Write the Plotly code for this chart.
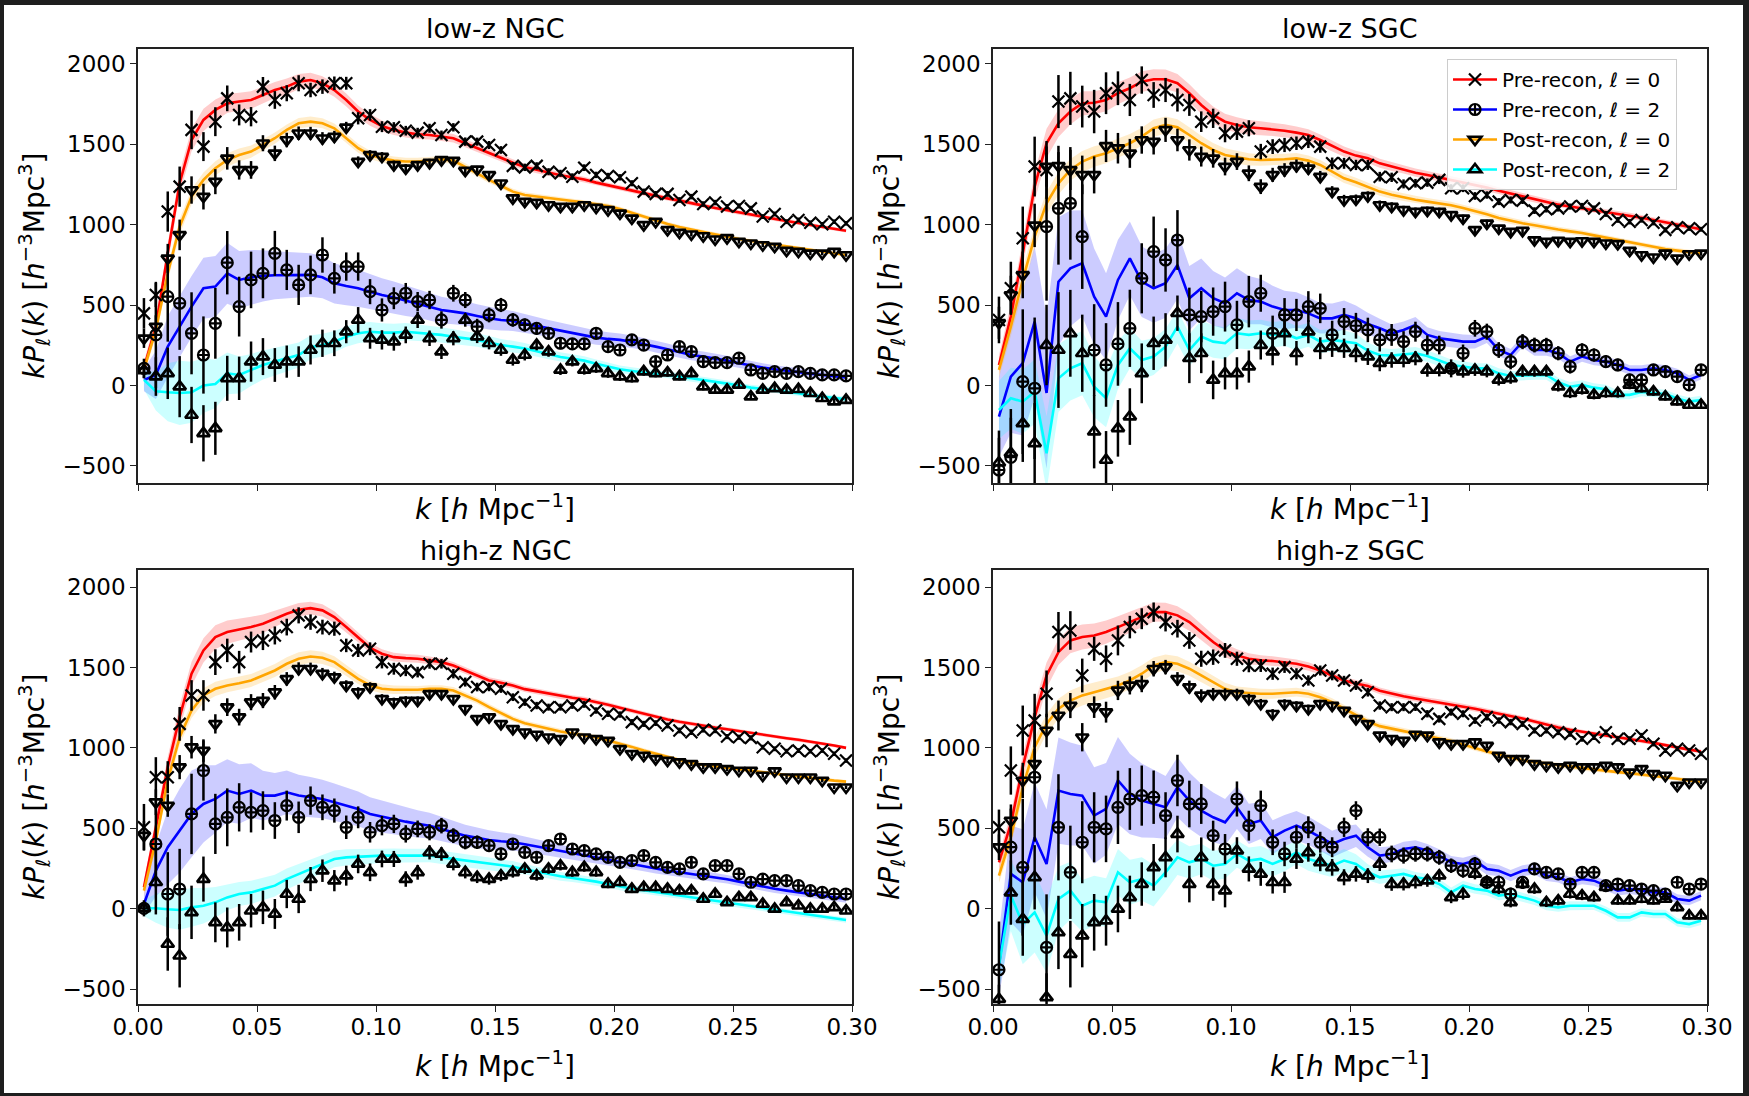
import plotly.graph_objects as go

# wavenumber bins (h/Mpc)
K = [0.0025, 0.0075, 0.0125, 0.0175, 0.0225, 0.0275, 0.0325, 0.0375, 0.0425, 0.0475,
     0.0525, 0.0575, 0.0625, 0.0675, 0.0725, 0.0775, 0.0825, 0.0875, 0.0925, 0.0975,
     0.1025, 0.1075, 0.1125, 0.1175, 0.1225, 0.1275, 0.1325, 0.1375, 0.1425, 0.1475,
     0.1525, 0.1575, 0.1625, 0.1675, 0.1725, 0.1775, 0.1825, 0.1875, 0.1925, 0.1975,
     0.2025, 0.2075, 0.2125, 0.2175, 0.2225, 0.2275, 0.2325, 0.2375, 0.2425, 0.2475,
     0.2525, 0.2575, 0.2625, 0.2675, 0.2725, 0.2775, 0.2825, 0.2875, 0.2925, 0.2975]

X_TICKS = [0.0, 0.05, 0.10, 0.15, 0.20, 0.25, 0.30]
X_TICK_LABELS = ["0.00", "0.05", "0.10", "0.15", "0.20", "0.25", "0.30"]
Y_TICKS = [-500, 0, 500, 1000, 1500, 2000]

# ---------------- low-z NGC ----------------
LZN_PRE0 = [449, 563, 1082, 1237, 1590, 1486, 1641, 1786, 1683, 1672,
            1859, 1776, 1818, 1880, 1838, 1859, 1880, 1880, 1662, 1683,
            1610, 1606, 1585, 1573, 1600, 1558, 1606, 1517, 1517, 1496,
            1465, 1366, 1357, 1366, 1330, 1320, 1299, 1355, 1310, 1303,
            1295, 1258, 1206, 1192, 1192, 1154, 1175, 1129, 1138, 1113,
            1117, 1102, 1051, 1067, 1019, 1030, 1013, 1003, 1019, 1009]
LZN_PRE0_ERR = [95, 75, 125, 125, 120, 90, 90, 80, 65, 60,
                60, 55, 50, 50, 45, 45, 42, 40, 38, 36,
                34, 32, 30, 30, 28, 28, 26, 26, 25, 25,
                24, 24, 23, 23, 22, 22, 21, 21, 20, 20,
                20, 19, 19, 18, 18, 18, 17, 17, 17, 16,
                16, 16, 15, 15, 15, 15, 14, 14, 14, 14]
LZN_PRE0_MOCK = [110, 367, 822, 1258, 1527, 1652, 1714, 1755, 1766, 1776,
                 1807, 1838, 1859, 1890, 1900, 1880, 1838, 1776, 1704, 1652,
                 1614, 1590, 1573, 1563, 1558, 1548, 1538, 1507, 1476, 1445,
                 1415, 1386, 1359, 1341, 1324, 1308, 1295, 1281, 1262, 1245,
                 1231, 1214, 1196, 1179, 1164, 1150, 1133, 1119, 1104, 1090,
                 1075, 1061, 1048, 1036, 1023, 1011, 999, 988, 976, 963]
LZN_PRE0_SIG = [40, 50, 60, 65, 70, 70, 65, 60, 55, 55,
                52, 50, 50, 48, 46, 44, 42, 40, 38, 36,
                34, 32, 30, 29, 28, 27, 26, 25, 24, 23,
                22, 21, 20, 20, 19, 19, 18, 18, 17, 17,
                16, 16, 16, 15, 15, 15, 14, 14, 14, 13,
                13, 13, 12, 12, 12, 12, 11, 11, 11, 11]
LZN_POST0 = [294, 367, 791, 937, 1216, 1175, 1268, 1413, 1341, 1341,
             1507, 1444, 1527, 1569, 1569, 1538, 1548, 1606, 1393, 1434,
             1424, 1372, 1351, 1372, 1386, 1403, 1399, 1337, 1345, 1310,
             1258, 1165, 1144, 1138, 1123, 1113, 1113, 1123, 1107, 1092,
             1071, 1040, 999, 1019, 968, 951, 941, 930, 910, 918,
             895, 885, 874, 864, 839, 833, 822, 822, 833, 812]
LZN_POST0_ERR = [60, 70, 90, 95, 85, 80, 78, 70, 60, 55,
                 50, 48, 45, 42, 40, 38, 36, 34, 32, 30,
                 28, 27, 26, 25, 24, 23, 22, 22, 21, 21,
                 20, 20, 19, 19, 18, 18, 17, 17, 17, 16,
                 16, 16, 15, 15, 15, 14, 14, 14, 14, 13,
                 13, 13, 13, 12, 12, 12, 12, 12, 11, 11]
LZN_POST0_MOCK = [100, 346, 698, 988, 1175, 1279, 1351, 1403, 1434, 1455,
                  1496, 1538, 1590, 1631, 1641, 1631, 1600, 1538, 1476, 1434,
                  1413, 1399, 1393, 1393, 1399, 1407, 1399, 1362, 1320, 1279,
                  1245, 1206, 1185, 1175, 1165, 1156, 1148, 1140, 1129, 1117,
                  1098, 1075, 1051, 1026, 1005, 986, 970, 955, 941, 926,
                  912, 899, 889, 876, 866, 856, 845, 835, 825, 812]
LZN_POST0_SIG = [35, 40, 45, 48, 48, 46, 44, 42, 40, 38,
                 36, 35, 34, 33, 32, 31, 30, 29, 28, 27,
                 26, 25, 24, 23, 22, 21, 20, 20, 19, 19,
                 18, 18, 17, 17, 16, 16, 16, 15, 15, 15,
                 14, 14, 14, 13, 13, 13, 12, 12, 12, 12,
                 11, 11, 11, 11, 10, 10, 10, 10, 10, 10]
LZN_PRE2 = [107, 315, 553, 512, 325, 190, 387, 764, 491, 657,
            698, 822, 719, 626, 688, 812, 667, 740, 740, 584,
            470, 543, 574, 522, 532, 408, 574, 532, 367, 439,
            501, 408, 377, 356, 325, 263, 259, 259, 325, 242,
            221, 284, 252, 149, 190, 242, 211, 149, 143, 143,
            170, 97, 76, 87, 76, 87, 76, 66, 66, 60]
LZN_PRE2_ERR = [60, 330, 280, 290, 255, 240, 220, 197, 186, 176,
                155, 140, 125, 125, 120, 110, 95, 88, 88, 78,
                72, 68, 64, 60, 57, 54, 52, 50, 48, 46,
                44, 42, 40, 39, 38, 37, 36, 35, 34, 33,
                32, 31, 30, 30, 29, 28, 28, 27, 27, 26,
                26, 25, 25, 24, 24, 23, 23, 22, 22, 22]
LZN_PRE2_MOCK = [35, 66, 242, 367, 491, 605, 616, 698, 657, 673,
                 682, 686, 688, 688, 688, 673, 636, 619, 605, 584,
                 563, 547, 528, 512, 491, 470, 460, 449, 433, 418,
                 408, 402, 385, 371, 356, 342, 327, 313, 298, 290,
                 284, 273, 259, 242, 226, 207, 190, 180, 168, 155,
                 139, 124, 112, 101, 91, 83, 74, 66, 60, 51]
LZN_PRE2_SIG = [70, 150, 190, 190, 190, 190, 190, 190, 180, 170,
                160, 150, 145, 140, 135, 130, 125, 120, 115, 110,
                105, 100, 95, 90, 86, 82, 78, 75, 72, 70,
                66, 62, 58, 55, 52, 50, 48, 46, 44, 42,
                40, 38, 37, 36, 35, 34, 33, 32, 31, 30,
                29, 28, 27, 26, 26, 25, 25, 24, 24, 23]
LZN_POST2 = [95, 56, 76, -7, -183, -297, -266, 45, 45, 149,
             180, 128, 149, 149, 221, 263, 263, 335, 408, 294,
             284, 273, 315, 408, 294, 211, 294, 408, 304, 263,
             221, 159, 190, 252, 211, 97, 149, 97, 107, 76,
             56, 45, 87, 76, 80, 56, 76, -7, -27, -27,
             4, -69, -27, -17, -27, -23, -48, -79, -100, -90]
LZN_POST2_ERR = [50, 120, 160, 190, 175, 175, 165, 140, 135, 125,
                 115, 105, 100, 95, 90, 85, 80, 72, 80, 65,
                 60, 56, 52, 50, 48, 46, 44, 42, 40, 38,
                 36, 35, 34, 33, 32, 31, 30, 29, 28, 28,
                 27, 26, 26, 25, 25, 24, 24, 23, 23, 22,
                 22, 21, 21, 21, 20, 20, 20, 19, 19, 19]
LZN_POST2_MOCK = [35, -35, -42, -46, -42, 0, 10, 76, 66, 97,
                  128, 149, 170, 190, 238, 252, 273, 304, 325, 335,
                  329, 329, 335, 329, 325, 315, 304, 294, 284, 267,
                  252, 242, 230, 213, 194, 178, 167, 155, 136, 118,
                  101, 91, 83, 76, 66, 56, 45, 35, 23, 12,
                  0, -13, -21, -29, -38, -48, -61, -69, -77, -85]
LZN_POST2_SIG = [60, 120, 180, 200, 190, 170, 150, 130, 115, 100,
                 90, 86, 82, 78, 74, 70, 66, 63, 62, 60,
                 58, 56, 54, 52, 50, 48, 46, 44, 42, 41,
                 38, 36, 34, 32, 30, 29, 28, 27, 26, 25,
                 24, 23, 22, 22, 21, 21, 20, 20, 19, 19,
                 18, 18, 18, 17, 17, 17, 16, 16, 16, 16]

# ---------------- low-z SGC ----------------
LZS_PRE0 = [408, 605, 916, 1362, 1341, 1766, 1786, 1735, 1704, 1818,
            1849, 1776, 1900, 1807, 1838, 1776, 1745, 1641, 1662, 1569,
            1579, 1600, 1455, 1486, 1496, 1507, 1517, 1486, 1382, 1382,
            1372, 1372, 1299, 1295, 1254, 1258, 1262, 1279, 1227, 1227,
            1179, 1185, 1144, 1154, 1150, 1088, 1096, 1102, 1113, 1117,
            1102, 1067, 1030, 1019, 1030, 1013, 968, 984, 978, 972]
LZS_PRE0_ERR = [145, 165, 197, 186, 180, 165, 165, 130, 135, 130,
                105, 100, 85, 80, 75, 72, 68, 64, 60, 56,
                52, 50, 48, 46, 44, 42, 40, 38, 36, 34,
                32, 31, 30, 29, 28, 27, 26, 26, 25, 24,
                24, 23, 22, 22, 21, 21, 20, 20, 19, 19,
                18, 18, 18, 17, 17, 17, 16, 16, 16, 15]
LZS_PRE0_MOCK = [128, 429, 822, 1237, 1507, 1631, 1704, 1755, 1759, 1776,
                 1818, 1849, 1890, 1905, 1905, 1880, 1818, 1745, 1683, 1641,
                 1621, 1606, 1600, 1594, 1585, 1573, 1558, 1527, 1490, 1455,
                 1430, 1413, 1382, 1362, 1345, 1324, 1310, 1295, 1279, 1262,
                 1248, 1231, 1212, 1194, 1175, 1159, 1140, 1125, 1113, 1102,
                 1092, 1080, 1069, 1057, 1044, 1030, 1015, 1001, 986, 972]
LZS_PRE0_SIG = [60, 75, 85, 90, 90, 85, 80, 75, 72, 70,
                68, 66, 64, 62, 60, 58, 56, 54, 52, 50,
                48, 46, 44, 42, 40, 38, 36, 34, 33, 32,
                30, 29, 28, 27, 26, 26, 25, 24, 24, 23,
                22, 22, 21, 21, 20, 20, 19, 19, 18, 18,
                18, 17, 17, 17, 16, 16, 16, 15, 15, 15]
LZS_POST0 = [390, 563, 688, 996, 1362, 1366, 1341, 1310, 1310, 1490,
             1476, 1444, 1527, 1517, 1590, 1527, 1465, 1424, 1413, 1362,
             1393, 1320, 1237, 1310, 1341, 1366, 1351, 1299, 1206, 1154,
             1158, 1179, 1123, 1113, 1092, 1082, 1088, 1082, 1061, 1040,
             968, 1009, 978, 957, 963, 905, 895, 901, 895, 899,
             895, 885, 881, 839, 812, 798, 822, 791, 818, 822]
LZS_POST0_ERR = [100, 120, 145, 135, 125, 125, 125, 120, 115, 100,
                 95, 90, 85, 80, 75, 70, 66, 62, 58, 55,
                 52, 49, 46, 44, 42, 40, 38, 36, 34, 32,
                 30, 29, 28, 27, 26, 25, 25, 24, 23, 23,
                 22, 22, 21, 21, 20, 20, 19, 19, 18, 18,
                 18, 17, 17, 17, 16, 16, 16, 15, 15, 15]
LZS_POST0_MOCK = [97, 367, 657, 926, 1133, 1258, 1341, 1393, 1424, 1444,
                  1476, 1507, 1548, 1600, 1621, 1606, 1558, 1507, 1465, 1434,
                  1420, 1407, 1403, 1403, 1407, 1413, 1399, 1372, 1330, 1289,
                  1264, 1237, 1206, 1187, 1171, 1156, 1144, 1133, 1121, 1104,
                  1086, 1065, 1042, 1024, 1009, 997, 982, 970, 959, 949,
                  934, 920, 903, 889, 874, 862, 849, 839, 829, 822]
LZS_POST0_SIG = [50, 60, 70, 72, 72, 70, 68, 66, 64, 62,
                 60, 58, 56, 54, 52, 50, 48, 46, 44, 42,
                 40, 38, 36, 35, 34, 33, 32, 31, 30, 29,
                 28, 27, 26, 25, 24, 24, 23, 22, 22, 21,
                 21, 20, 20, 19, 19, 18, 18, 18, 17, 17,
                 17, 16, 16, 16, 15, 15, 15, 15, 14, 14]
LZS_PRE2 = [-525, -446, 24, -17, 988, 1102, 1133, 926, 221, 128,
            259, 356, 667, 833, 781, 905, 439, 429, 460, 491,
            377, 522, 574, 325, 439, 439, 491, 480, 315, 398,
            372, 346, 284, 315, 273, 335, 252, 252, 107, 201,
            356, 335, 221, 149, 273, 252, 252, 201, 118, 221,
            190, 149, 128, 35, 35, 97, 87, 56, 4, 97]
LZS_PRE2_ERR = [200, 300, 450, 440, 460, 350, 350, 325, 285, 260,
                260, 240, 218, 218, 197, 186, 170, 160, 150, 155,
                150, 160, 115, 110, 105, 100, 96, 92, 88, 84,
                80, 76, 72, 68, 65, 62, 60, 58, 56, 54,
                52, 50, 49, 48, 47, 46, 45, 44, 43, 42,
                41, 40, 39, 38, 37, 36, 35, 35, 34, 34]
LZS_PRE2_MOCK = [-193, 56, 139, 397, -46, 646, 729, 760, 553, 429,
                 657, 791, 646, 605, 636, 750, 543, 605, 543, 512,
                 574, 532, 522, 491, 470, 470, 449, 418, 418, 439,
                 418, 383, 356, 325, 346, 377, 315, 294, 284, 273,
                 273, 304, 221, 190, 273, 221, 221, 201, 149, 180,
                 159, 149, 128, 97, 97, 107, 97, 76, 35, 66]
LZS_PRE2_SIG = [250, 350, 450, 470, 470, 400, 360, 330, 300, 270,
                250, 230, 220, 215, 215, 210, 200, 185, 170, 160,
                155, 150, 140, 130, 120, 110, 100, 95, 93, 90,
                80, 70, 60, 55, 52, 50, 48, 46, 45, 44,
                42, 40, 39, 38, 37, 36, 35, 34, 33, 32,
                32, 31, 31, 30, 30, 30, 29, 29, 28, 28]
LZS_POST2 = [-480, -420, -235, -359, 252, 221, 325, 201, -287, -463,
             -266, -193, 76, 263, 284, 450, 170, 201, 35, 76,
             76, 118, 252, 211, 325, 201, 335, 232, 242, 232,
             201, 180, 139, 159, 159, 170, 97, 97, 107, 87,
             97, 87, 35, 45, 87, 87, 87, -7, -48, -27,
             -58, -48, -48, 4, -17, -38, -69, -100, -121, -121]
LZS_POST2_ERR = [200, 220, 240, 250, 250, 360, 270, 240, 228, 180,
                 176, 176, 186, 166, 166, 110, 155, 124, 120, 100,
                 100, 100, 90, 85, 80, 76, 72, 68, 64, 60,
                 56, 52, 50, 48, 46, 44, 42, 40, 39, 38,
                 37, 36, 35, 34, 33, 32, 31, 30, 30, 29,
                 28, 28, 27, 27, 26, 26, 25, 25, 25, 24]
LZS_POST2_MOCK = [-152, -79, -100, -38, -421, 45, 107, 139, -7, -79,
                  128, 232, 159, 180, 242, 367, 221, 304, 273, 263,
                  325, 315, 325, 315, 325, 294, 315, 273, 284, 273,
                  263, 217, 190, 186, 194, 201, 184, 155, 128, 118,
                  107, 107, 76, 60, 62, 66, 66, 20, -7, 4,
                  -13, -23, -58, -58, -40, -46, -52, -81, -100, -90]
LZS_POST2_SIG = [180, 190, 200, 200, 230, 210, 200, 200, 190, 180,
                 150, 125, 120, 115, 110, 105, 100, 100, 100, 100,
                 95, 90, 85, 80, 78, 76, 74, 72, 70, 70,
                 60, 50, 45, 42, 40, 38, 36, 35, 34, 33,
                 32, 32, 31, 31, 30, 30, 30, 29, 29, 29,
                 28, 28, 28, 27, 27, 27, 26, 26, 26, 26]

# ---------------- high-z NGC ----------------
HZN_PRE0 = [506, 817, 817, 1149, 1326, 1326, 1533, 1606, 1533, 1658,
            1668, 1699, 1751, 1824, 1782, 1751, 1741, 1637, 1606, 1616,
            1533, 1492, 1481, 1471, 1523, 1523, 1461, 1409, 1378, 1378,
            1367, 1315, 1284, 1263, 1253, 1253, 1263, 1270, 1232, 1212,
            1207, 1160, 1149, 1154, 1139, 1108, 1097, 1112, 1108, 1070,
            1066, 1062, 1004, 994, 979, 983, 979, 983, 963, 921]
HZN_PRE0_ERR = [145, 125, 100, 105, 95, 95, 80, 73, 70, 65,
                60, 56, 52, 50, 48, 46, 44, 42, 41, 40,
                39, 37, 35, 33, 31, 30, 29, 28, 27, 26,
                25, 24, 23, 23, 22, 22, 21, 21, 20, 20,
                20, 19, 19, 18, 18, 18, 17, 17, 17, 16,
                16, 16, 15, 15, 15, 15, 14, 14, 14, 14]
HZN_PRE0_MOCK = [133, 506, 880, 1191, 1461, 1606, 1689, 1720, 1734, 1751,
                 1772, 1803, 1834, 1859, 1869, 1855, 1813, 1751, 1689, 1622,
                 1585, 1564, 1558, 1554, 1544, 1533, 1512, 1481, 1450, 1419,
                 1405, 1388, 1365, 1351, 1336, 1321, 1311, 1301, 1286, 1268,
                 1249, 1230, 1212, 1193, 1176, 1162, 1149, 1137, 1126, 1116,
                 1104, 1093, 1083, 1070, 1060, 1050, 1039, 1027, 1014, 1000]
HZN_PRE0_SIG = [40, 55, 65, 72, 75, 75, 74, 72, 68, 64,
                58, 52, 46, 42, 40, 38, 36, 34, 32, 30,
                28, 27, 26, 25, 24, 23, 22, 21, 20, 20,
                19, 19, 18, 18, 17, 17, 16, 16, 16, 15,
                15, 15, 14, 14, 14, 13, 13, 13, 13, 12,
                12, 12, 12, 11, 11, 11, 11, 11, 10, 10]
HZN_POST0 = [454, 662, 641, 880, 1004, 983, 1149, 1253, 1191, 1284,
             1294, 1346, 1429, 1492, 1492, 1461, 1440, 1388, 1346, 1378,
             1305, 1284, 1294, 1294, 1336, 1336, 1305, 1243, 1180, 1191,
             1149, 1118, 1097, 1083, 1066, 1056, 1097, 1066, 1056, 1045,
             994, 963, 952, 931, 921, 911, 900, 880, 880, 869,
             859, 859, 828, 855, 817, 817, 817, 797, 755, 755]
HZN_POST0_ERR = [90, 80, 70, 75, 70, 70, 60, 55, 52, 50,
                 47, 45, 42, 40, 38, 36, 34, 32, 31, 30,
                 29, 28, 27, 26, 25, 24, 23, 22, 21, 21,
                 20, 20, 19, 19, 18, 18, 17, 17, 17, 16,
                 16, 16, 15, 15, 15, 14, 14, 14, 14, 13,
                 13, 13, 13, 12, 12, 12, 12, 12, 11, 11]
HZN_POST0_MOCK = [112, 423, 797, 1066, 1232, 1326, 1367, 1388, 1402, 1419,
                  1450, 1481, 1523, 1554, 1568, 1560, 1533, 1481, 1429, 1388,
                  1367, 1361, 1361, 1361, 1367, 1367, 1357, 1326, 1294, 1253,
                  1215, 1180, 1153, 1135, 1116, 1102, 1089, 1078, 1066, 1045,
                  1027, 1006, 983, 963, 942, 923, 906, 894, 885, 875,
                  867, 858, 850, 840, 830, 819, 811, 803, 796, 790]
HZN_POST0_SIG = [30, 38, 44, 46, 46, 45, 44, 42, 41, 40,
                 40, 40, 40, 40, 39, 38, 36, 34, 32, 30,
                 28, 26, 25, 24, 23, 22, 21, 20, 19, 19,
                 18, 18, 17, 17, 16, 16, 16, 15, 15, 15,
                 14, 14, 14, 13, 13, 13, 12, 12, 12, 12,
                 11, 11, 11, 11, 10, 10, 10, 10, 10, 10]
HZN_PRE2 = [2, 402, 91, 122, 589, 859, 527, 568, 630, 599,
            610, 548, 641, 568, 672, 630, 610, 506, 568, 475,
            516, 527, 465, 496, 475, 516, 454, 413, 413, 392,
            340, 402, 350, 319, 392, 433, 371, 361, 340, 319,
            288, 299, 330, 288, 257, 247, 288, 216, 268, 268,
            216, 164, 184, 174, 174, 143, 112, 101, 91, 91]
HZN_PRE2_ERR = [50, 270, 260, 250, 250, 187, 187, 180, 150, 125,
                120, 114, 93, 98, 88, 80, 75, 73, 68, 64,
                60, 57, 54, 52, 50, 48, 46, 44, 42, 40,
                39, 38, 37, 36, 35, 34, 33, 32, 31, 30,
                30, 29, 28, 28, 27, 27, 26, 26, 25, 25,
                24, 24, 24, 23, 23, 23, 22, 22, 22, 22]
HZN_PRE2_MOCK = [29, 236, 382, 485, 589, 651, 682, 734, 713, 734,
                 703, 703, 724, 703, 693, 682, 662, 641, 620, 589,
                 572, 558, 541, 527, 516, 496, 475, 454, 440, 427,
                 419, 413, 400, 386, 371, 357, 343, 328, 315, 303,
                 290, 278, 263, 249, 236, 226, 216, 203, 193, 183,
                 168, 153, 137, 124, 112, 101, 91, 81, 70, 60]
HZN_PRE2_SIG = [60, 160, 230, 260, 270, 240, 210, 195, 185, 170,
                155, 140, 135, 130, 125, 120, 116, 112, 108, 104,
                100, 95, 90, 85, 80, 76, 72, 68, 64, 60,
                56, 52, 48, 45, 42, 40, 38, 36, 35, 34,
                33, 32, 31, 30, 30, 29, 29, 28, 28, 27,
                27, 26, 26, 26, 25, 25, 25, 24, 24, 24]
HZN_POST2 = [2, 164, -220, -293, -23, 184, -85, -117, -85, -13,
             8, -33, 91, 60, 184, 236, 174, 205, 278, 226,
             309, 309, 184, 226, 350, 340, 278, 226, 195, 184,
             205, 226, 247, 205, 247, 267, 226, 257, 226, 153,
             164, 122, 133, 133, 122, 112, 112, 60, 91, 39,
             70, 70, 29, -2, 39, 18, -2, -2, 8, -13]
HZN_POST2_ERR = [40, 200, 166, 197, 166, 140, 124, 124, 114, 104,
                 104, 93, 88, 88, 75, 70, 66, 62, 58, 55,
                 52, 50, 48, 46, 44, 42, 40, 38, 36, 35,
                 34, 33, 32, 31, 30, 29, 28, 27, 27, 26,
                 25, 25, 24, 24, 23, 23, 22, 22, 22, 21,
                 21, 21, 20, 20, 20, 20, 19, 19, 19, 19]
HZN_POST2_MOCK = [2, 2, -4, -8, 8, 18, 39, 70, 91, 101,
                  122, 143, 184, 216, 247, 278, 309, 319, 323, 323,
                  330, 330, 330, 330, 330, 319, 309, 299, 288, 278,
                  267, 261, 245, 230, 216, 201, 191, 180, 168, 153,
                  137, 124, 114, 103, 91, 81, 70, 58, 47, 37,
                  25, 14, 2, -8, -19, -31, -41, -52, -62, -71]
HZN_POST2_SIG = [50, 90, 115, 124, 120, 110, 95, 80, 75, 72,
                 70, 68, 65, 62, 58, 55, 52, 50, 48, 46,
                 45, 44, 43, 42, 42, 41, 41, 40, 40, 40,
                 38, 35, 32, 30, 28, 27, 26, 25, 24, 23,
                 22, 22, 21, 21, 20, 20, 20, 19, 19, 19,
                 18, 18, 18, 18, 17, 17, 17, 17, 16, 16]

# ---------------- high-z SGC ----------------
HZS_PRE0 = [506, 859, 1108, 1170, 1336, 1720, 1730, 1450, 1616, 1554,
            1668, 1751, 1803, 1844, 1782, 1741, 1668, 1554, 1564, 1606,
            1554, 1512, 1512, 1461, 1502, 1461, 1419, 1481, 1450, 1419,
            1388, 1346, 1263, 1253, 1253, 1253, 1212, 1180, 1222, 1212,
            1170, 1191, 1170, 1160, 1149, 1108, 1108, 1097, 1087, 1056,
            1066, 1097, 1056, 1056, 1077, 1025, 983, 994, 983, 963]
HZS_PRE0_ERR = [110, 150, 155, 166, 145, 125, 120, 105, 75, 83,
                93, 70, 65, 60, 58, 55, 52, 50, 48, 46,
                44, 42, 40, 38, 36, 34, 32, 31, 30, 29,
                28, 27, 26, 25, 25, 24, 23, 23, 22, 22,
                21, 21, 20, 20, 19, 19, 19, 18, 18, 18,
                17, 17, 17, 16, 16, 16, 15, 15, 15, 15]
HZS_PRE0_MOCK = [288, 527, 880, 1191, 1450, 1595, 1668, 1689, 1699, 1720,
                 1751, 1782, 1813, 1844, 1844, 1824, 1782, 1720, 1658, 1606,
                 1575, 1554, 1544, 1540, 1533, 1523, 1506, 1481, 1450, 1419,
                 1400, 1384, 1355, 1336, 1321, 1307, 1294, 1284, 1272, 1257,
                 1243, 1228, 1214, 1199, 1182, 1164, 1145, 1126, 1112, 1099,
                 1089, 1077, 1066, 1056, 1043, 1031, 1016, 1002, 989, 977]
HZS_PRE0_SIG = [50, 65, 75, 80, 80, 80, 80, 78, 75, 72,
                68, 64, 62, 60, 58, 56, 54, 50, 46, 42,
                38, 35, 32, 30, 28, 27, 26, 25, 24, 23,
                22, 21, 21, 20, 20, 19, 19, 18, 18, 17,
                17, 17, 16, 16, 16, 15, 15, 15, 14, 14,
                14, 14, 13, 13, 13, 13, 12, 12, 12, 12]
HZS_POST0 = [382, 548, 797, 900, 1108, 1201, 1263, 1066, 1253, 1222,
             1357, 1388, 1398, 1492, 1502, 1429, 1378, 1326, 1336, 1336,
             1336, 1305, 1274, 1212, 1274, 1263, 1243, 1274, 1263, 1232,
             1180, 1149, 1077, 1056, 1045, 1083, 1077, 1035, 1025, 1025,
             1035, 1014, 952, 931, 931, 900, 890, 880, 890, 880,
             880, 890, 880, 848, 869, 838, 828, 765, 786, 786]
HZS_POST0_ERR = [80, 100, 110, 93, 104, 93, 78, 88, 67, 65,
                 60, 56, 52, 48, 45, 42, 40, 38, 36, 34,
                 32, 31, 30, 29, 28, 27, 26, 25, 24, 23,
                 22, 22, 21, 21, 20, 20, 19, 19, 18, 18,
                 18, 17, 17, 17, 16, 16, 16, 15, 15, 15,
                 15, 14, 14, 14, 14, 13, 13, 13, 13, 13]
HZS_POST0_MOCK = [205, 444, 755, 1004, 1149, 1243, 1294, 1326, 1346, 1367,
                  1388, 1419, 1461, 1512, 1533, 1523, 1492, 1450, 1409, 1367,
                  1346, 1340, 1336, 1336, 1340, 1346, 1336, 1315, 1284, 1243,
                  1205, 1164, 1135, 1118, 1104, 1089, 1075, 1060, 1043, 1021,
                  998, 977, 958, 940, 923, 911, 902, 893, 882, 872,
                  864, 857, 849, 843, 835, 826, 818, 808, 797, 789]
HZS_POST0_SIG = [45, 55, 60, 62, 62, 62, 62, 62, 60, 58,
                 56, 54, 52, 50, 48, 46, 44, 42, 40, 38,
                 36, 34, 32, 30, 28, 27, 26, 25, 24, 23,
                 22, 21, 20, 20, 19, 19, 18, 18, 17, 17,
                 16, 16, 16, 15, 15, 15, 14, 14, 14, 14,
                 13, 13, 13, 13, 12, 12, 12, 12, 12, 12]
HZS_PRE2 = [-380, 382, 257, 817, -241, 506, 226, 413, 506, 496,
            630, 682, 703, 693, 579, 797, 651, 651, 454, 371,
            682, 516, 641, 413, 340, 444, 506, 413, 382, 506,
            610, 444, 444, 340, 330, 340, 340, 319, 267, 236,
            278, 164, 164, 91, 164, 247, 226, 216, 153, 226,
            226, 143, 153, 143, 122, 112, 91, 164, 122, 153]
HZS_PRE2_ERR = [300, 240, 425, 400, 330, 330, 290, 255, 218, 207,
                228, 192, 187, 166, 145, 160, 145, 124, 93, 93,
                109, 93, 93, 80, 76, 72, 68, 65, 62, 60,
                58, 56, 54, 52, 50, 48, 47, 46, 45, 44,
                43, 42, 41, 40, 39, 38, 37, 36, 35, 35,
                34, 34, 33, 33, 32, 32, 31, 31, 30, 30]
HZS_PRE2_MOCK = [-355, 216, 164, 444, 278, 734, 713, 703, 579, 620,
                 797, 713, 672, 651, 630, 755, 672, 610, 568, 537,
                 630, 527, 548, 444, 485, 516, 485, 444, 402, 433,
                 454, 382, 330, 340, 371, 382, 361, 330, 288, 278,
                 299, 247, 236, 205, 236, 247, 205, 195, 164, 184,
                 174, 143, 112, 122, 112, 101, 101, 60, 50, 81]
HZS_PRE2_SIG = [200, 300, 330, 340, 340, 330, 320, 310, 300, 285,
                270, 250, 230, 210, 195, 187, 175, 165, 155, 145,
                135, 125, 115, 105, 98, 92, 88, 85, 83, 80,
                70, 60, 52, 48, 45, 43, 41, 40, 39, 38,
                37, 36, 35, 35, 34, 34, 33, 33, 32, 32,
                32, 31, 31, 31, 30, 30, 30, 30, 29, 29]
HZS_POST2 = [-563, 100, -65, 195, -552, -148, -283, -168, -85, -75,
             -2, 70, 153, 257, 319, 464, 153, 319, 153, 112,
             361, 247, 216, 164, 164, 309, 350, 288, 257, 195,
             216, 205, 278, 153, 153, 164, 174, 205, 70, 91,
             216, 164, 122, 39, 153, 122, 39, 50, 91, 81,
             70, 133, 50, 50, 60, 50, 60, 8, -44, -44]
HZS_POST2_ERR = [90, 200, 228, 200, 150, 228, 207, 197, 176, 155,
                 145, 135, 135, 145, 124, 114, 114, 124, 104, 104,
                 83, 78, 74, 70, 66, 62, 58, 55, 52, 50,
                 48, 46, 44, 42, 40, 39, 38, 37, 36, 35,
                 34, 33, 32, 31, 30, 30, 29, 29, 28, 28,
                 27, 27, 26, 26, 26, 25, 25, 25, 24, 24]
HZS_POST2_MOCK = [-355, 81, -96, -23, -168, 60, 112, 18, 50, 39,
                  226, 164, 184, 143, 226, 319, 288, 309, 267, 278,
                  340, 299, 309, 278, 309, 350, 309, 288, 267, 299,
                  278, 226, 195, 205, 216, 195, 184, 153, 101, 143,
                  122, 112, 81, 91, 70, 50, 18, 8, 18, 18,
                  18, -13, -54, -54, -23, -33, -33, -85, -96, -75]
HZS_POST2_SIG = [150, 220, 250, 250, 230, 200, 180, 160, 155, 150,
                 145, 140, 135, 130, 120, 110, 100, 95, 93, 90,
                 85, 82, 80, 78, 76, 74, 73, 72, 72, 72,
                 60, 50, 42, 38, 35, 33, 32, 31, 31, 30,
                 30, 30, 29, 29, 29, 28, 28, 28, 28, 27,
                 27, 27, 27, 27, 26, 26, 26, 26, 26, 26]

# ---------------- layout helpers ----------------
W, H = 1749, 1096
FONT = "DejaVu Sans"

# panel boxes in pixels: (left, top, right, bottom)
BOXES = {
    "lzn": (138, 49, 852, 483),
    "lzs": (993, 49, 1707, 483),
    "hzn": (138, 570, 852, 1004),
    "hzs": (993, 570, 1707, 1004),
}

STYLE = {
    "pre0":  dict(color="red",    fill="rgba(255,0,0,0.2)",   symbol="x-thin",             size=12, lw=2.2, name="Pre-recon, <i>ℓ</i> = 0"),
    "pre2":  dict(color="blue",   fill="rgba(0,0,255,0.2)",   symbol="circle-cross-open",  size=11, lw=2.2, name="Pre-recon, <i>ℓ</i> = 2"),
    "post0": dict(color="orange", fill="rgba(255,165,0,0.2)", symbol="triangle-down-open", size=11, lw=2.7, name="Post-recon, <i>ℓ</i> = 0"),
    "post2": dict(color="cyan",   fill="rgba(0,255,255,0.2)", symbol="triangle-up-open",   size=11, lw=2.7, name="Post-recon, <i>ℓ</i> = 2"),
}

PANELS = [
    ("lzn", "low-z NGC", "x", "y", [-606, 2093], {
        "pre0": (LZN_PRE0, LZN_PRE0_ERR, LZN_PRE0_MOCK, LZN_PRE0_SIG),
        "pre2": (LZN_PRE2, LZN_PRE2_ERR, LZN_PRE2_MOCK, LZN_PRE2_SIG),
        "post0": (LZN_POST0, LZN_POST0_ERR, LZN_POST0_MOCK, LZN_POST0_SIG),
        "post2": (LZN_POST2, LZN_POST2_ERR, LZN_POST2_MOCK, LZN_POST2_SIG)}),
    ("lzs", "low-z SGC", "x2", "y2", [-606, 2093], {
        "pre0": (LZS_PRE0, LZS_PRE0_ERR, LZS_PRE0_MOCK, LZS_PRE0_SIG),
        "pre2": (LZS_PRE2, LZS_PRE2_ERR, LZS_PRE2_MOCK, LZS_PRE2_SIG),
        "post0": (LZS_POST0, LZS_POST0_ERR, LZS_POST0_MOCK, LZS_POST0_SIG),
        "post2": (LZS_POST2, LZS_POST2_ERR, LZS_POST2_MOCK, LZS_POST2_SIG)}),
    ("hzn", "high-z NGC", "x3", "y3", [-593, 2106], {
        "pre0": (HZN_PRE0, HZN_PRE0_ERR, HZN_PRE0_MOCK, HZN_PRE0_SIG),
        "pre2": (HZN_PRE2, HZN_PRE2_ERR, HZN_PRE2_MOCK, HZN_PRE2_SIG),
        "post0": (HZN_POST0, HZN_POST0_ERR, HZN_POST0_MOCK, HZN_POST0_SIG),
        "post2": (HZN_POST2, HZN_POST2_ERR, HZN_POST2_MOCK, HZN_POST2_SIG)}),
    ("hzs", "high-z SGC", "x4", "y4", [-593, 2106], {
        "pre0": (HZS_PRE0, HZS_PRE0_ERR, HZS_PRE0_MOCK, HZS_PRE0_SIG),
        "pre2": (HZS_PRE2, HZS_PRE2_ERR, HZS_PRE2_MOCK, HZS_PRE2_SIG),
        "post0": (HZS_POST0, HZS_POST0_ERR, HZS_POST0_MOCK, HZS_POST0_SIG),
        "post2": (HZS_POST2, HZS_POST2_ERR, HZS_POST2_MOCK, HZS_POST2_SIG)}),
]

ORDER = ["pre0", "pre2", "post0", "post2"]


def px_x(x):
    return x / W


def px_y(y):
    return 1 - y / H


fig = go.Figure()

for key, title, xa, ya, yrange, series in PANELS:
    # shaded mock bands
    for s in ORDER:
        _, _, mock, sig = series[s]
        upper = [m + e for m, e in zip(mock, sig)]
        lower = [m - e for m, e in zip(mock, sig)]
        fig.add_trace(go.Scatter(
            x=K + K[::-1], y=upper + lower[::-1], xaxis=xa, yaxis=ya,
            fill="toself", fillcolor=STYLE[s]["fill"], line=dict(width=0),
            mode="lines", hoverinfo="skip", showlegend=False))
    # mock mean lines
    for s in ORDER:
        _, _, mock, _ = series[s]
        fig.add_trace(go.Scatter(
            x=K, y=mock, xaxis=xa, yaxis=ya, mode="lines",
            line=dict(color=STYLE[s]["color"], width=2.6),
            hoverinfo="skip", showlegend=False))
    # measured multipoles with error bars
    for s in ORDER:
        data, err, _, _ = series[s]
        st = STYLE[s]
        fig.add_trace(go.Scatter(
            x=K, y=data, xaxis=xa, yaxis=ya, mode="markers",
            marker=dict(symbol=st["symbol"], size=st["size"], color="black",
                        line=dict(color="black", width=st["lw"])),
            error_y=dict(type="data", array=err, color="black", thickness=2.5, width=0),
            showlegend=False))

# legend entries: coloured mock line with the data marker on top
for s in ORDER:
    st = STYLE[s]
    fig.add_trace(go.Scatter(
        x=[None], y=[None], xaxis="x2", yaxis="y2", mode="lines+markers",
        name=st["name"], legendgroup=s,
        line=dict(color=st["color"], width=2.6),
        marker=dict(symbol=st["symbol"], size=st["size"], color="black",
                    line=dict(color="black", width=st["lw"]))))

axis_common = dict(
    showline=True, mirror=True, linecolor="#222222", linewidth=1.5,
    ticks="outside", ticklen=6, tickwidth=1.4, tickcolor="#222222",
    showgrid=False, zeroline=False, automargin=False,
    tickfont=dict(family=FONT, size=23, color="black"),
)

layout_axes = {}
annotations = []
for idx, (key, title, xa, ya, yrange, series) in enumerate(PANELS):
    l, t, r, b = BOXES[key]
    xname = "xaxis" if xa == "x" else "xaxis" + xa[1:]
    yname = "yaxis" if ya == "y" else "yaxis" + ya[1:]
    bottom_row = key in ("hzn", "hzs")
    layout_axes[xname] = dict(
        axis_common, domain=[px_x(l), px_x(r)], anchor=ya, range=[0, 0.3],
        tickvals=X_TICKS, ticktext=X_TICK_LABELS, showticklabels=bottom_row,
        ticklabelstandoff=-4)
    layout_axes[yname] = dict(
        axis_common, domain=[px_y(b), px_y(t)], anchor=xa, range=yrange,
        tickvals=Y_TICKS)
    cx = (l + r) / 2
    cy = (t + b) / 2
    annotations.append(dict(
        text=title, x=px_x(cx), y=px_y(t - 20), xref="paper", yref="paper",
        xanchor="center", yanchor="middle", showarrow=False,
        font=dict(family=FONT, size=27, color="black")))
    xlab_y = b + 25 if not bottom_row else b + 60
    annotations.append(dict(
        text="<i>k</i> [<i>h</i> Mpc<sup>−1</sup>]", x=px_x(cx), y=px_y(xlab_y),
        xref="paper", yref="paper", xanchor="center", yanchor="middle",
        showarrow=False, font=dict(family=FONT, size=28, color="black")))
    annotations.append(dict(
        text="<i>kP</i><sub><i>ℓ</i></sub>(<i>k</i>) [<i>h</i><sup>−3</sup>Mpc<sup>3</sup>]",
        x=px_x(l - 104), y=px_y(cy), xref="paper", yref="paper",
        xanchor="center", yanchor="middle", textangle=-90, showarrow=False,
        font=dict(family=FONT, size=28, color="black")))

fig.update_layout(
    width=W, height=H,
    margin=dict(l=0, r=0, t=0, b=0, autoexpand=False),
    paper_bgcolor="#1e1e1e",
    plot_bgcolor="white",
    showlegend=True,
    legend=dict(
        x=px_x(1447), y=px_y(59), xanchor="left", yanchor="top",
        xref="paper", yref="paper",
        bgcolor="rgba(255,255,255,0.85)", bordercolor="#cccccc", borderwidth=1,
        font=dict(family=FONT, size=20, color="black"),
        tracegroupgap=1, itemwidth=44),
    annotations=annotations,
    shapes=[dict(type="rect", xref="paper", yref="paper",
                 x0=px_x(4), x1=px_x(1743), y0=px_y(1093), y1=px_y(5),
                 fillcolor="white", line=dict(width=0), layer="below")],
    **layout_axes,
)

fig.write_html("out.html")
